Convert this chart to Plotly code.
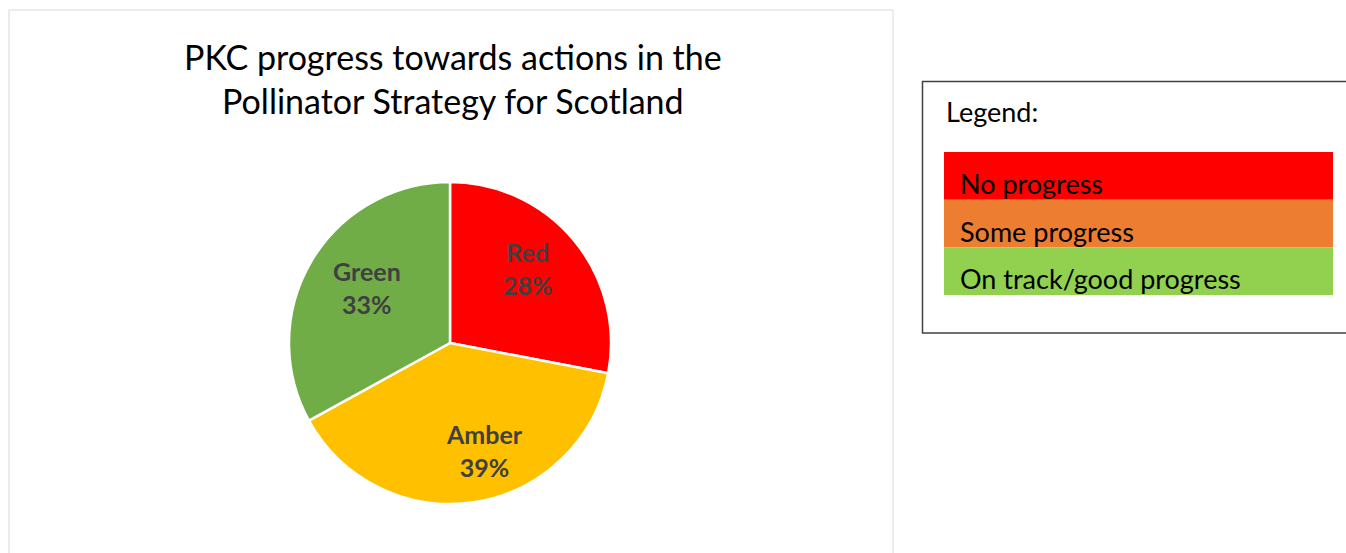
import plotly.graph_objects as go

W, H = 1346, 553

# Data
categories = ["Red", "Amber", "Green"]
values = [28, 39, 33]
slice_colors = ["#FF0000", "#FFC000", "#70AD47"]
# label centres (pixel) in the picture, for Excel-style placement
label_pos = [(528, 268), (484, 450), (367, 287)]

legend_labels = ["No progress", "Some progress", "On track/good progress"]
legend_colors = ["#FF0000", "#ED7D31", "#92D050"]

title_text = "PKC progress towards actions in the<br>Pollinator Strategy for Scotland"

FONT = "Lato, Open Sans, sans-serif"


def px(x):
    return x / W


def py(y):
    return 1 - y / H


fig = go.Figure()
fig.add_trace(go.Pie(
    labels=categories,
    values=values,
    sort=False,
    direction="clockwise",
    rotation=0,
    marker=dict(colors=slice_colors, line=dict(color="white", width=2.5)),
    textinfo="none",
    domain=dict(x=[px(289), px(611)], y=[py(504), py(182)]),
    showlegend=False,
    hoverinfo="label+percent",
))

shapes = []
annotations = []

total = sum(values)
for cat, val, (lx, ly) in zip(categories, values, label_pos):
    annotations.append(dict(text=f"<b>{cat}<br>{round(100 * val / total)}%</b>",
                            xref="paper", yref="paper", x=px(lx), y=py(ly),
                            xanchor="center", yanchor="middle", showarrow=False,
                            font=dict(family=FONT, size=25, color="#404040")))

# Chart panel border
shapes.append(dict(type="rect", xref="paper", yref="paper",
                   x0=px(9), x1=px(893), y0=py(560), y1=py(10),
                   line=dict(color="#D9D9D9", width=1), fillcolor="rgba(0,0,0,0)"))

# Title
annotations.append(dict(text=title_text, xref="paper", yref="paper",
                        x=px(453), y=py(78), xanchor="center", yanchor="middle",
                        showarrow=False,
                        font=dict(family=FONT, size=34, color="#000000")))

# Legend box
shapes.append(dict(type="rect", xref="paper", yref="paper",
                   x0=px(922.5), x1=px(1352), y0=py(333), y1=py(81.5),
                   line=dict(color="#404040", width=1.5), fillcolor="white"))
annotations.append(dict(text="Legend:", xref="paper", yref="paper",
                        x=px(944), y=py(112), xanchor="left", yanchor="middle",
                        showarrow=False,
                        font=dict(family=FONT, size=27, color="#000000")))

row_top = 152
row_h = 47.7
for i, (lab, col) in enumerate(zip(legend_labels, legend_colors)):
    y0 = row_top + i * row_h
    shapes.append(dict(type="rect", xref="paper", yref="paper",
                       x0=px(944), x1=px(1333), y0=py(y0 + row_h), y1=py(y0),
                       line=dict(width=0), fillcolor=col))
    annotations.append(dict(text=lab, xref="paper", yref="paper",
                            x=px(958), y=py(y0 + row_h * 0.66), xanchor="left", yanchor="middle",
                            showarrow=False,
                            font=dict(family=FONT, size=27, color="#000000")))

fig.update_layout(
    width=W, height=H,
    margin=dict(l=0, r=0, t=0, b=0),
    paper_bgcolor="white",
    plot_bgcolor="white",
    shapes=shapes,
    annotations=annotations,
)

fig.write_html("out.html", config=dict(displayModeBar=False),
               post_script="document.body.style.margin='0';document.body.style.overflow='hidden';")
